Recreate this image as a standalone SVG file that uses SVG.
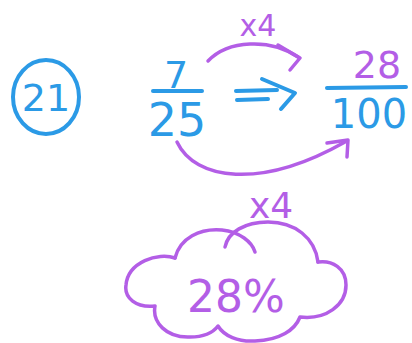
<svg xmlns="http://www.w3.org/2000/svg" width="412" height="343" viewBox="0 0 412 343">
<style>
.b{fill:none;stroke:#2b9ae6;stroke-width:4;stroke-linecap:round;stroke-linejoin:round}
.p{fill:none;stroke:#b35ee6;stroke-width:3.5;stroke-linecap:round;stroke-linejoin:round}
.tb{fill:#2b9ae6;font-family:"DejaVu Sans",sans-serif}
.tp{fill:#b35ee6;font-family:"DejaVu Sans",sans-serif}
</style>
<rect width="412" height="343" fill="#ffffff"/>
<g id="num21">
<ellipse class="b" cx="46" cy="97" rx="33" ry="37"/>
<text class="tb" x="46" y="111" font-size="38" text-anchor="middle">21</text>
</g>
<g id="frac725">
<text class="tb" x="176" y="88" font-size="38" text-anchor="middle">7</text>
<line class="b" x1="153" y1="91" x2="202" y2="91"/>
<text class="tb" x="177" y="136" font-size="46" text-anchor="middle">25</text>
</g>
<g id="implies">
<line class="b" x1="236" y1="91" x2="277" y2="90"/>
<line class="b" x1="237" y1="100" x2="268" y2="99"/>
<polyline class="b" points="262,79 295,93 281,109"/>
</g>
<g id="frac28100">
<text class="tp" x="377" y="78" font-size="38" text-anchor="middle">28</text>
<line class="b" x1="327" y1="88" x2="406" y2="87"/>
<text class="tb" x="369" y="128" font-size="40" text-anchor="middle">100</text>
</g>
<g id="connectors">
<path class="p" d="M208,61 C228,40 270,38 298,57"/>
<polyline class="p" points="278,45 300,58 290,70"/>
<text class="tp" x="258" y="36" font-size="30" text-anchor="middle">x4</text>
<path class="p" d="M177,142 C195,180 260,190 345,142"/>
<polyline class="p" points="327,143 348,140 347,157"/>
<text class="tp" x="271" y="218" font-size="36" text-anchor="middle">x4</text>
</g>
<g id="cloud">
<path class="p" d="M175,258 C180,238 200,228 222,230 C240,232 252,242 255,252"/>
<path class="p" d="M225,247 C228,232 245,222 268,222 C295,222 315,238 318,262"/>
<path class="p" d="M318,262 C332,260 346,268 346,285 C346,305 326,320 300,317 C295,330 280,340 255,341 C238,342 224,336 218,326 C212,334 203,337 190,337 C166,338 152,322 155,306 C136,308 124,298 126,285 C128,262 158,252 175,258"/>
<text class="tp" x="236" y="312" font-size="44" text-anchor="middle">28%</text>
</g>
</svg>
